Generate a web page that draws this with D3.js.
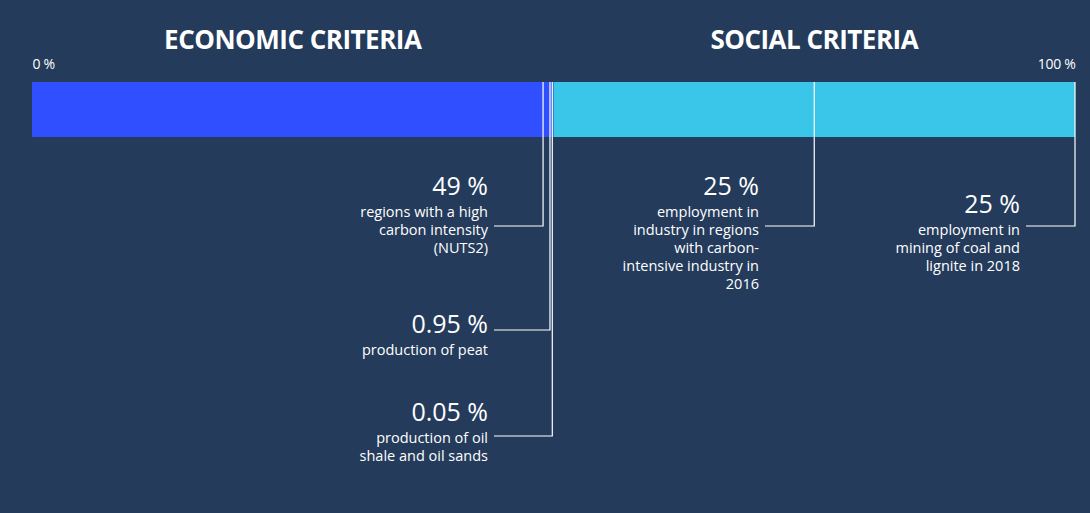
<!DOCTYPE html>
<html>
<head>
<meta charset="utf-8">
<script src="https://cdn.jsdelivr.net/npm/d3@7"></script>
<style>
  body { margin: 0; background: #243b5b; }
  svg { display: block; }
  text { font-family: "Open Sans", sans-serif; fill: #fff; }
</style>
</head>
<body>
<script>
// data
const groups = ['ECONOMIC CRITERIA', 'SOCIAL CRITERIA'];
const segGroup = [0, 0, 0, 1, 1];
const segValues = [49, 0.95, 0.05, 25, 25];
const valueLabels = ['49 %', '0.95 %', '0.05 %', '25 %', '25 %'];
const descLines = [
  ['regions with a high', 'carbon intensity', '(NUTS2)'],
  ['production of peat'],
  ['production of oil', 'shale and oil sands'],
  ['employment in', 'industry in regions', 'with carbon-', 'intensive industry in', '2016'],
  ['employment in', 'mining of coal and', 'lignite in 2018']
];
const axisTicks = [0, 100];

// layout of the callouts (pixels)
const callout = [
  {tx: 488, ty: 195, ey: 226, nudge: 0},
  {tx: 488, ty: 333, ey: 330, nudge: -3},
  {tx: 488, ty: 421, ey: 436, nudge: -1.2},
  {tx: 759, ty: 195, ey: 226, nudge: 0},
  {tx: 1020, ty: 213, ey: 226, nudge: 0}
];
const colors = ['#3050ff', '#3ac6e8'];

const W = 1090, H = 513;
const barTop = 82, barH = 55;

const svg = d3.select('body').append('svg')
  .attr('width', W).attr('height', H);

const x = d3.scaleLinear().domain([0, 100]).range([32, 1075]);

// cumulative positions
let acc = 0;
const segs = segValues.map((v, i) => {
  const s = {i, v, x0: acc, x1: acc + v, g: segGroup[i]};
  acc += v;
  return s;
});

// group titles centred on each half
const groupSpan = groups.map((g, gi) => {
  const ss = segs.filter(s => s.g === gi);
  return {name: g, mid: (ss[0].x0 + ss[ss.length - 1].x1) / 2};
});
svg.selectAll('text.title')
  .data(groupSpan)
  .join('text')
  .attr('class', 'title')
  .attr('x', d => x(d.mid))
  .attr('y', 49)
  .attr('text-anchor', 'middle')
  .style('font-weight', 700)
  .style('font-size', '26px')
  .style('letter-spacing', '-0.5px')
  .text(d => d.name);

// axis labels 0 % / 100 %
const axis = svg.append('g')
  .attr('transform', `translate(0,${barTop - 13})`)
  .call(d3.axisTop(x).tickValues(axisTicks).tickFormat(d => d + ' %').tickSize(0));
axis.select('.domain').remove();
axis.selectAll('text')
  .attr('y', 0).attr('dy', 0)
  .attr('fill', '#fff')
  .style('font-family', '"Open Sans", sans-serif')
  .style('font-size', '14px')
  .style('letter-spacing', '-0.3px')
  .attr('text-anchor', d => d === 0 ? 'start' : 'end');

// bar segments
svg.selectAll('rect.seg')
  .data(segs)
  .join('rect')
  .attr('class', 'seg')
  .attr('x', d => x(d.x0))
  .attr('width', d => x(d.x1) - x(d.x0))
  .attr('y', barTop)
  .attr('height', barH)
  .attr('fill', d => colors[d.g]);

// leader lines
svg.selectAll('path.leader')
  .data(segs)
  .join('path')
  .attr('class', 'leader')
  .attr('fill', 'none')
  .attr('stroke', '#fff')
  .attr('stroke-width', 1.2)
  .attr('d', d => {
    const c = callout[d.i];
    const lx = x(d.x1) + c.nudge;
    return `M${lx},${barTop}V${c.ey}H${c.tx + 6}`;
  });

// labels
const lab = svg.selectAll('g.lab')
  .data(segs)
  .join('g')
  .attr('class', 'lab');

lab.append('text')
  .attr('x', d => callout[d.i].tx)
  .attr('y', d => callout[d.i].ty)
  .attr('text-anchor', 'end')
  .style('font-size', '25px')
  .text(d => valueLabels[d.i]);

lab.each(function(d) {
  const c = callout[d.i];
  d3.select(this).selectAll('text.desc')
    .data(descLines[d.i])
    .join('text')
    .attr('class', 'desc')
    .attr('x', c.tx)
    .attr('y', (t, k) => c.ty + 22 + k * 18)
    .attr('text-anchor', 'end')
    .style('font-size', '14.5px')
    .text(t => t);
});
</script>
</body>
</html>
